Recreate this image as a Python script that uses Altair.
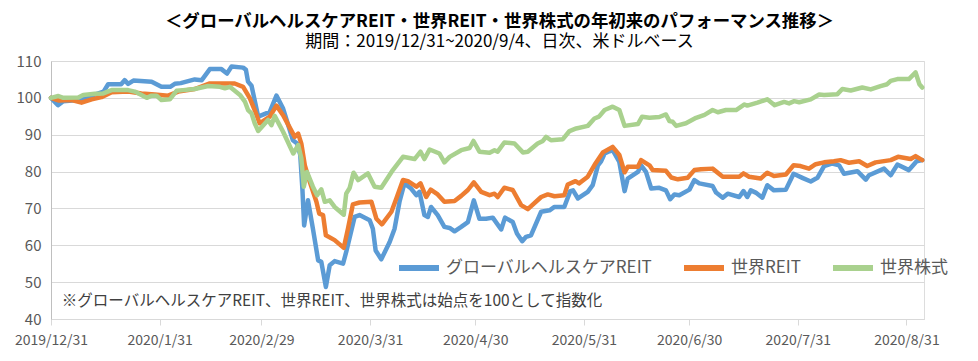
import altair as alt
import pandas as pd
import numpy as np

START = pd.Timestamp("2019-12-31")
FONT = "Noto Sans CJK JP"

series_names = ["グローバルヘルスケアREIT", "世界REIT", "世界株式"]
series_colors = ["#5B9BD5", "#ED7D31", "#A9D18E"]

# days since 2019/12/31 and index values
hc_days = [0, 2, 3.5, 7.8, 10.6, 13.5, 15, 16.3, 20, 21, 22, 23.5, 28.7, 31.5, 34, 35.3, 37, 41, 43, 45.3, 48.6,
           50.2, 51.5, 54.8, 55.6, 56.2, 57.2, 59.1, 62.4, 64.3, 66.2, 69, 70.2, 71.1, 71.7, 72.2, 73.3, 74.7, 76.2,
           77.1, 78.4, 79.5, 80.9, 83.3, 84.2, 86.6, 88, 90.9, 91.8, 92.6, 94.2, 96.6, 98, 99.4,
           100.8, 102.7, 104.2, 105.1, 106.5, 107.5, 108.4, 110.3, 112.2, 113.7, 115.1, 117, 118.9, 120.6, 122.2,
           124.1, 126, 128.4, 129.5, 131.7, 132.9, 134.4, 135.5, 136.9, 139.8, 142.2, 143.6, 146.4, 148.1,
           148.9, 150.3, 153.1, 154.5, 156, 156.9, 157.9, 159.3, 160.2, 162.1, 163.6, 164.5, 167.4, 168.3, 169.7,
           171.2, 173.5, 175.4, 176.6, 177.8, 179.2, 182.1, 183.5, 184.9, 188.7, 189.7, 191.6, 193, 196.3, 197.5,
           198.6, 199.6, 201, 202.9, 204.3, 206.2, 209.6, 211.8, 214.3, 216.7, 218.6, 220.5, 222.9, 224.8, 226.2,
           230, 232.4, 233.3, 237.6, 239.5, 241.4, 244.7, 246.9, 248.5]
hc_vals = [100, 98.0, 99.1, 99.4, 100.3, 101.2, 101.7, 103.7, 103.7, 104.8, 103.8, 104.7, 104.4, 103, 103, 103.8, 104.0, 105.0, 104.8, 107.8, 107.8,
           106.6, 108.5, 108.2, 107.6, 104.4, 103.3, 94.9, 96.2, 100.6, 97.1, 88.5, 87.6, 84.5, 75.4, 65.4, 72.2, 64.5, 55.9,
           55.5, 48.7, 54.6, 55.7, 55, 58.2, 67.7, 68.2, 66.8, 64.5, 58.6, 56.2, 60.9, 64.5, 71.8,
           76.8, 75.4, 73.6, 74.5, 68.2, 67.7, 70.4, 68.2, 65.0, 64.7, 63.8, 65, 66.3, 72.2, 67.2,
           67.2, 67.5, 64.3, 67.5, 66.3, 63.2, 61.1, 62.3, 62.7, 69.1, 69.5, 70.4, 70.4, 74.7,
           74.9, 72.7, 74.5, 76.3, 81.7, 82.8, 84.9, 85.5, 85.8, 82.6, 74.7, 78.1, 79.9, 81.7, 79.9,
           75.4, 75.6, 74.9, 72.5, 73.8, 73.6, 75.1, 77.7, 76.8, 76.1, 74.3, 72.9, 74.0, 73.1, 74.7,
           73.1, 74.9, 74.3, 72.9, 76.3, 74.9, 75.1, 79.4, 78.3, 77.3, 78.3, 81.5, 82.2, 81.7, 79.4,
           80.1, 77.8, 79, 80.8, 79, 81.9, 80.4, 82.8, 83.1]

reit_days = [0, 2.1, 5.9, 8.7, 11.6, 14.4, 17.3, 22, 25.8, 29.6, 33.4, 36.3, 41, 45.3,
             48.2, 52.4, 54.8, 56.7, 58.1, 59.5, 62.4, 64.3, 66.2, 69.5, 70.5, 71.4, 72.4, 73.8, 75.7, 76.5, 77.6,
             78.4, 80.9, 83.5, 84.7, 86.1, 88, 91.4, 92.8, 94.4, 97.1, 98.5,
             100.4, 101.8, 104.2, 105.4, 107, 108.3, 110.3, 112.2, 115.1, 117, 118.9, 120.6, 122.7, 125.1, 126.5,
             127.4, 129.3, 131.7, 134.1, 136, 139.8, 141.7, 143.6, 146.4, 147.4,
             149.6, 150.6, 153.1, 155.3, 157.4, 160.2, 162.1, 163.6, 164.5, 167.4, 168.3, 170.7, 171.6, 175.4,
             176.9, 178.8, 181.6, 183.5, 185.4, 188.7, 191.6, 196.3, 197.5,
             199.1, 202.4, 204.3, 206.2, 209.6, 211.8, 213.8, 216.2, 218.1, 220.5, 223.3, 225.2, 227.6, 230.5,
             232.8, 235.2, 239.5, 241.6, 245.2, 246.6, 248.5]
reit_vals = [100, 99.3, 99.4, 98.7, 99.6, 100.2, 101.5, 101.7, 101.2, 100.9, 100.6, 101.7, 102.4, 103.9,
             103.9, 103.9, 103, 99.9, 96.7, 93.1, 94.9, 97.9, 95.3, 89.4, 90.3, 87.6, 81.7, 77.2, 71.8, 68.6, 68.2,
             62.7, 61.4, 59.3, 64.5, 71.1, 71.6, 71.8, 67.2, 65.7, 69.1, 72.7,
             77.7, 77.4, 75.9, 76.8, 73.1, 75.1, 73.8, 71.8, 72, 73.4, 75, 77.1, 74.5, 73.6, 74.0,
             73.1, 75.6, 75, 70.9, 69.8, 73.1, 73.8, 73.3, 73.6, 76.5,
             77.4, 76.8, 78.6, 82.2, 85.2, 86.7, 84.5, 79.8, 81.3, 81.3, 83.1, 81.7, 80.4, 80.2,
             78.4, 77.9, 78.3, 80.4, 80.6, 80.8, 78.6, 78.6, 79.5,
             78.6, 78.1, 79.7, 78.8, 79.2, 81.7, 81.5, 80.8, 82, 82.5, 82.8, 83.1, 82.4, 82.8,
             81.5, 82.5, 83.1, 84.0, 83.4, 84.2, 83.1]

eq_days = [0, 2.1, 3.5, 7.8, 9.2, 12.5, 14.9, 17.3, 22, 23.9, 27.3, 28.7, 30.1, 31.5, 33.9, 35.8, 37.7, 41, 44.8,
           48.2, 49.6, 51, 53.9, 55.3, 56.2, 57.2, 58.1, 59.1, 61.9, 62.9, 63.8, 66.2, 69.1, 70.5, 71.4, 72.1, 73,
           74.7, 75.9, 77.1, 78.1, 79.5, 80.9, 83.5, 84.2, 85.2, 86.3, 87.6, 90.4, 92.3, 94.2, 97.5,
           100.4, 103.7, 105.4, 106.5, 108, 110.8, 112.2, 113.7, 117, 119.4, 120.5, 122.2, 125.1, 126.5, 127.4,
           129.3, 132.2, 134.6, 136, 138.8, 140.3, 141.2, 142.6, 146, 147.9,
           149.8, 153.1, 155, 156.3, 157.9, 160.2, 162.1, 163.6, 167.4, 168.6, 170.7, 173.5, 175.4, 176.4, 177.3,
           178.3, 181.1, 184, 186.4, 188.7, 190.2, 192.5, 195.4, 197.8,
           198.6, 201.5, 204.3, 206.4, 209.1, 210.5, 212, 213.4, 216.7, 219.1, 220.5, 224.3, 225.7, 228.1, 231.4,
           233.8, 236.6, 238.5, 239.5, 241.4, 244.7, 246.6, 247.7, 248.5]
eq_vals = [100, 100.5, 100, 100.1, 100.8, 101.1, 101.2, 102.1, 102.1, 101.7, 100, 100.6, 100.6, 99.4, 99.6, 101.9, 102.1, 102.4, 103.2,
           103, 102.6, 103, 100.8, 99, 96.7, 95.8, 93.1, 91, 94, 92.6, 95.1, 90.8, 84.9, 87.2, 83.6, 75.9, 79.9,
           75.9, 73.6, 75.2, 71.8, 72.2, 70.4, 68.3, 74.0, 75.6, 79.7, 77.7, 79.5, 75.9, 75.6, 80.4,
           84, 83.4, 85.4, 83.4, 86, 84.9, 82.5, 84, 85.8, 86.4, 88.3, 85.4, 85.1, 85.8, 85.4,
           87.9, 87.6, 85.2, 85.4, 87.6, 88.3, 89.4, 88.5, 88.8, 91,
           91.7, 92.4, 94.4, 94.9, 96.7, 97.6, 96.7, 92.4, 92.9, 94.9, 94.6, 94.8, 95.5, 93.7, 93.5,
           92.4, 93.1, 94.6, 95.4, 96.7, 96.1, 96.7, 96.7, 98.2,
           97.9, 98.7, 99.6, 98, 98.9, 98.5, 99.1, 98.8, 99.6, 100.9, 100.8, 101, 102.4, 102, 102.8,
           102.3, 103.2, 103.7, 104.6, 105.1, 105.1, 106.9, 103.7, 102.8]

title_text = "＜グローバルヘルスケアREIT・世界REIT・世界株式の年初来のパフォーマンス推移＞"
subtitle_text = "期間：2019/12/31~2020/9/4、日次、米ドルベース"
note_text = "※グローバルヘルスケアREIT、世界REIT、世界株式は始点を100として指数化"
y_ticks = [40, 50, 60, 70, 80, 90, 100, 110]
x_tick_dates = [(2019, 12, 31), (2020, 1, 31), (2020, 2, 29), (2020, 3, 31), (2020, 4, 30),
                (2020, 5, 31), (2020, 6, 30), (2020, 7, 31), (2020, 8, 31)]


def frame(name, days, vals):
    return pd.DataFrame({
        "date": START + pd.to_timedelta(np.array(days, dtype=float), unit="D"),
        "value": vals,
        "series": name,
    })


df = pd.concat([frame(series_names[0], hc_days, hc_vals),
                frame(series_names[1], reit_days, reit_vals),
                frame(series_names[2], eq_days, eq_vals)], ignore_index=True)
df["order"] = df["series"].map({n: i for i, n in enumerate(series_names)})

x_scale = alt.Scale(domain=[alt.DateTime(year=2019, month=12, date=31),
                            alt.DateTime(year=2020, month=9, date=5)], nice=False)
y_scale = alt.Scale(domain=[40, 110], nice=False, zero=False)


def x_axis():
    return alt.Axis(values=[alt.DateTime(year=y, month=m, date=d) for (y, m, d) in x_tick_dates],
                    format="%Y/%-m/%-d", grid=False, domainColor="#D9D9D9", tickColor="#D9D9D9",
                    tickSize=6, labelFontSize=14, labelColor="#595959", labelPadding=8,
                    labelFont=FONT, title=None, labelOverlap=False, labelFlush=False)


def y_axis():
    return alt.Axis(values=y_ticks, grid=True, gridColor="#D9D9D9", ticks=False,
                    domainColor="#BFBFBF", labelFontSize=15, labelColor="#595959",
                    labelPadding=10, labelFont=FONT, title=None, labelOverlap=False,
                    labelFlush=False)


lines = alt.Chart(df).mark_line(strokeWidth=4.5, strokeJoin="round", strokeCap="round").encode(
    x=alt.X("date:T", scale=x_scale, axis=x_axis()),
    y=alt.Y("value:Q", scale=y_scale, axis=y_axis()),
    color=alt.Color("series:N",
                    scale=alt.Scale(domain=series_names, range=series_colors),
                    legend=alt.Legend(orient="none", legendX=345, legendY=184, direction="horizontal",
                                      title=None, symbolType="stroke", symbolSize=1600,
                                      symbolStrokeWidth=6, labelFontSize=17, labelColor="#595959",
                                      labelFont=FONT, labelLimit=400, columnPadding=20,
                                      labelOffset=4)),
    order=alt.Order("order:Q"),
)

note = alt.Chart(pd.DataFrame({"date": [START + pd.Timedelta(days=3.1)], "value": [45.0],
                               "text": [note_text]})).mark_text(
    align="left", baseline="middle", fontSize=15.5, font=FONT, color="#404040"
).encode(x=alt.X("date:T", scale=x_scale, axis=x_axis()),
         y=alt.Y("value:Q", scale=y_scale, axis=y_axis()), text="text:N")

chart = alt.layer(lines, note).properties(
    width=873, height=258,
    autosize=alt.AutoSizeParams(type="none"),
    padding={"left": 43, "top": 53, "right": 46, "bottom": 34},
    title=alt.TitleParams(text=title_text, subtitle=subtitle_text, anchor="middle", frame="group",
                          fontSize=17.4, fontWeight="bold", font=FONT, color="#000000",
                          subtitleFontSize=17, subtitleFont=FONT, subtitleColor="#000000",
                          subtitlePadding=4, offset=4, dx=12),
).configure_view(stroke=None).configure(background="white")

chart.save("out.html", embed_options={"renderer": "svg", "actions": False})
